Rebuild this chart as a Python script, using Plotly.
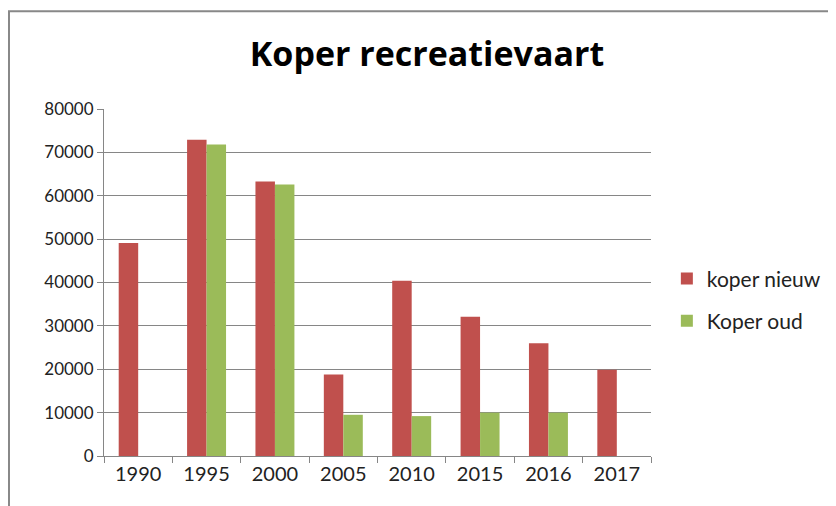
import plotly.graph_objects as go

# Data
years = ["1990", "1995", "2000", "2005", "2010", "2015", "2016", "2017"]
koper_nieuw = [49100, 72900, 63300, 18800, 40400, 32100, 26000, 19900]
koper_oud = [None, 71800, 62600, 9500, 9200, 10000, 10000, None]
y_ticks = [0, 10000, 20000, 30000, 40000, 50000, 60000, 70000, 80000]

FONT = "Lato, 'Open Sans', sans-serif"

fig = go.Figure()
fig.add_trace(
    go.Bar(x=years, y=koper_nieuw, name="koper nieuw", marker_color="#C0504D",
           marker_line_width=0, legendgroup="a")
)
fig.add_trace(
    go.Bar(x=years, y=koper_oud, name="Koper oud", marker_color="#9BBB59",
           marker_line_width=0, legendgroup="b")
)

# the page body adds an 8px margin, so the figure is 8px smaller each way
fig.update_layout(
    width=828,
    height=498,
    margin=dict(l=96, r=185, t=101, b=50, autoexpand=False),
    paper_bgcolor="white",
    plot_bgcolor="white",
    barmode="group",
    bargap=0.43,
    bargroupgap=0,
    font=dict(family=FONT, color="#222222"),
    title=dict(
        text="<b>Koper recreatievaart</b>",
        x=0.506, xanchor="center", y=0.907, yanchor="middle",
        font=dict(size=34, color="black", family="'Open Sans', sans-serif"),
    ),
    legend=dict(
        x=1.029, xanchor="left", y=0.45, yanchor="middle",
        font=dict(size=21, color="#222222"),
        tracegroupgap=12,
        bgcolor="rgba(0,0,0,0)",
    ),
    xaxis=dict(
        type="category",
        showline=True, linecolor="#868686", linewidth=1,
        ticks="outside", tickson="boundaries", ticklen=6, tickcolor="#868686",
        tickfont=dict(size=20, color="#222222"),
        showgrid=False,
    ),
    yaxis=dict(
        range=[0, 80000],
        tickvals=y_ticks,
        ticktext=[str(v) for v in y_ticks],
        showline=True, linecolor="#868686", linewidth=1,
        ticks="outside", ticklen=6, tickcolor="#868686",
        showgrid=True, gridcolor="#868686", gridwidth=1,
        zeroline=False,
        tickfont=dict(size=17, color="#222222"),
    ),
    shapes=[
        # outer chart-area border (top and left visible in the reference)
        dict(type="rect", xref="paper", yref="paper",
             x0=-0.1737, y0=-1.0, x1=2.0, y1=1.282,
             line=dict(color="#888888", width=2), layer="below"),
    ],
)

fig.write_html("out.html")
